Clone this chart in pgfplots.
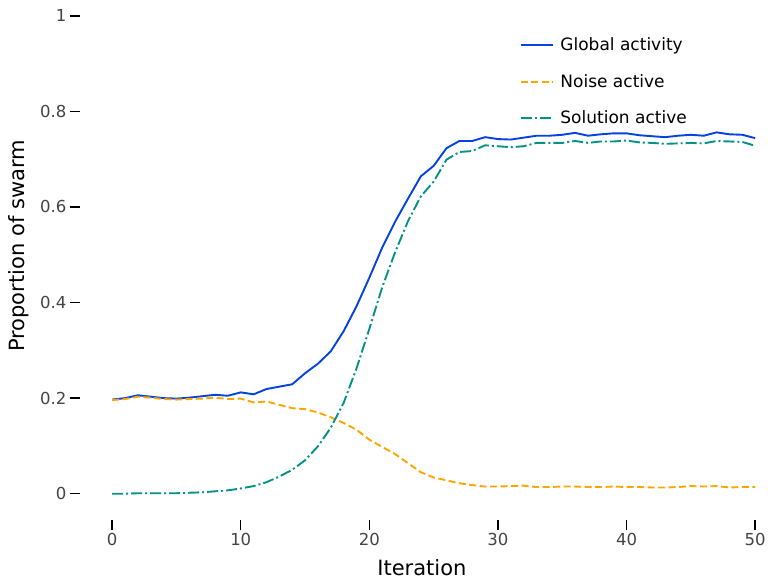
\documentclass[border=0pt]{standalone}
\usepackage{fontspec}
\setmainfont{DejaVu Sans}
\usepackage{pgfplots}
\pgfplotsset{compat=1.18}
\definecolor{cglobal}{HTML}{0343DF}
\definecolor{cnoise}{HTML}{FFA500}
\definecolor{csol}{HTML}{029386}
\definecolor{ticklab}{HTML}{444444}
\pgfplotsset{
  gstyle/.style={draw=cglobal, line width=1.9pt},
  nstyle/.style={draw=cnoise, line width=1.9pt, dash pattern=on 7pt off 3.5pt},
  sstyle/.style={draw=csol, line width=1.9pt, dash pattern=on 11pt off 3pt on 2pt off 3pt},
}
\begin{document}
\begin{tikzpicture}
\begin{axis}[
  name=ax,
  scale only axis,
  width=688pt, height=520pt,
  xmin=-2.5, xmax=51, ymin=-0.055, ymax=1.033,
  axis lines*=left,
  axis line style={draw=none},
  xtick={0,10,20,30,40,50},
  ytick={0,0.2,0.4,0.6,0.8,1},
  yticklabels={0,0.2,0.4,0.6,0.8,1},
  xtick pos=left, ytick pos=left,
  tick align=outside,
  major tick length=10pt,
  tick style={black, line width=1.5pt},
  /pgf/number format/assume math mode=true,
  ticklabel style={font=\fontsize{16.5}{19}\selectfont, text=ticklab},
  xlabel={Iteration},
  ylabel={Proportion of swarm},
  every axis x label/.style={at={(rel axis cs:0.497,0)}, yshift=-55pt, anchor=base,
    font=\fontsize{21}{25}\selectfont},
  every axis y label/.style={at={(rel axis cs:0,0.527)}, xshift=-55pt, rotate=90, anchor=base,
    font=\fontsize{21}{25}\selectfont},
  legend style={draw=none, fill=none, at={(rel axis cs:0.639,0.931)}, anchor=north west,
    font=\fontsize{17}{20}\selectfont, row sep=18pt, column sep=5pt, inner sep=0pt},
  legend cell align=left,
  legend image code/.code={\draw[#1, line width=1.6pt] (0pt,0pt) -- (32pt,0pt);},
  clip=false,
]
\addlegendimage{gstyle}
\addlegendentry{Global activity}
\addlegendimage{nstyle}
\addlegendentry{Noise active}
\addlegendimage{sstyle}
\addlegendentry{Solution active}
\addplot[gstyle, forget plot] table {
0 0.197
1 0.200
2 0.206
3 0.203
4 0.200
5 0.199
6 0.201
7 0.204
8 0.207
9 0.205
10 0.212
11 0.208
12 0.219
13 0.224
14 0.229
15 0.252
16 0.272
17 0.298
18 0.340
19 0.392
20 0.452
21 0.515
22 0.569
23 0.617
24 0.664
25 0.686
26 0.723
27 0.738
28 0.738
29 0.746
30 0.742
31 0.741
32 0.745
33 0.749
34 0.749
35 0.751
36 0.755
37 0.749
38 0.752
39 0.754
40 0.754
41 0.750
42 0.748
43 0.746
44 0.749
45 0.751
46 0.749
47 0.756
48 0.752
49 0.751
50 0.744
};
\addplot[nstyle, forget plot] table {
0 0.196
1 0.198
2 0.203
3 0.201
4 0.198
5 0.197
6 0.198
7 0.199
8 0.201
9 0.198
10 0.199
11 0.191
12 0.193
13 0.186
14 0.179
15 0.177
16 0.170
17 0.160
18 0.148
19 0.134
20 0.113
21 0.098
22 0.083
23 0.064
24 0.045
25 0.034
26 0.028
27 0.022
28 0.018
29 0.015
30 0.015
31 0.016
32 0.017
33 0.014
34 0.014
35 0.015
36 0.015
37 0.014
38 0.014
39 0.015
40 0.014
41 0.014
42 0.013
43 0.013
44 0.014
45 0.016
46 0.015
47 0.016
48 0.013
49 0.014
50 0.014
};
\addplot[sstyle, forget plot] table {
0 0.000
1 0.000
2 0.001
3 0.001
4 0.001
5 0.001
6 0.002
7 0.003
8 0.005
9 0.007
10 0.011
11 0.016
12 0.024
13 0.036
14 0.050
15 0.070
16 0.099
17 0.138
18 0.190
19 0.262
20 0.345
21 0.432
22 0.505
23 0.570
24 0.622
25 0.653
26 0.699
27 0.715
28 0.717
29 0.729
30 0.727
31 0.725
32 0.727
33 0.734
34 0.734
35 0.734
36 0.738
37 0.734
38 0.737
39 0.737
40 0.739
41 0.735
42 0.734
43 0.732
44 0.733
45 0.734
46 0.733
47 0.738
48 0.737
49 0.736
50 0.728
};
\end{axis}
\pgfresetboundingbox
\useasboundingbox ([xshift=-80pt,yshift=-59pt]ax.south west) rectangle (ax.north east);
\end{tikzpicture}
\end{document}
